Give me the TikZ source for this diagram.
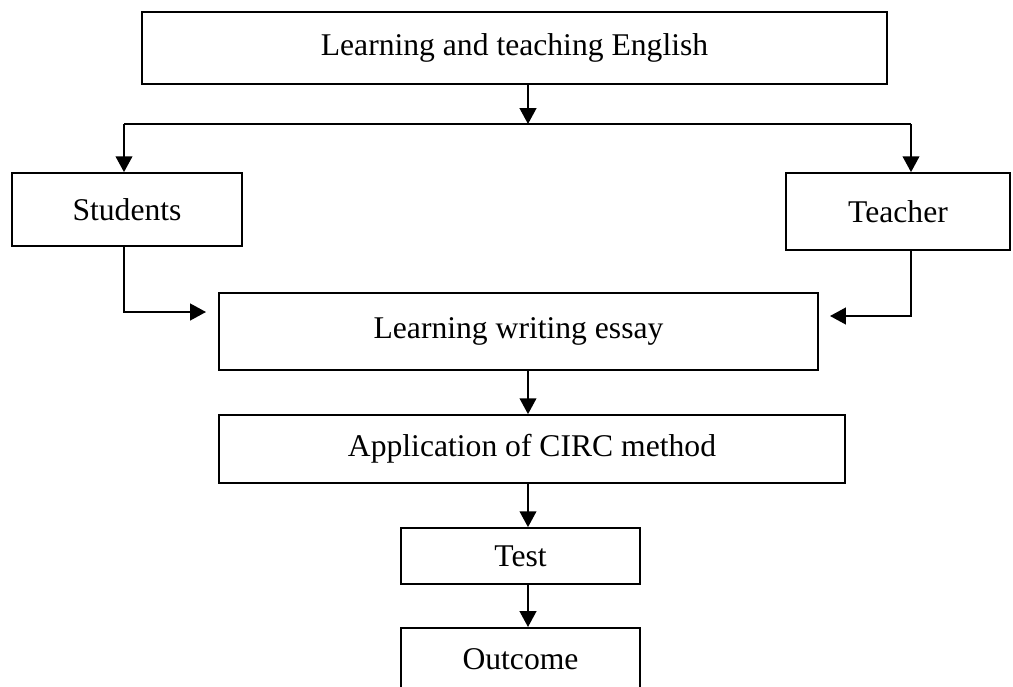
\documentclass[tikz,border=0pt]{standalone}
\usepackage{fontspec}
\setmainfont{Liberation Serif}
\usetikzlibrary{arrows.meta,positioning}

\begin{document}
\begin{tikzpicture}
		[x=0.02cm, y=-0.02cm, line width=1pt,
		 font=\fontsize{18}{21}\selectfont,
		 box/.style={draw, rectangle, inner sep=0pt},
		 arr/.style={-{Triangle[length=9pt,width=9.5pt]}}]
		
		\useasboundingbox (0, 0) rectangle (1013, 686);
		\clip (0, 0) rectangle (1013, 686);
		
		% boxes --------------------------------------------------
		\node[box, minimum width=14.9cm, minimum height=1.44cm] (top) at (514.5, 48)
		{Learning and teaching English};
		
		\node[box, minimum width=4.6cm, minimum height=1.46cm] (students) at (127, 209.5)
		{Students};
		
		\node[box, minimum width=4.48cm, minimum height=1.54cm] (teacher) at (898, 211.5)
		{Teacher};
		
		\node[box, minimum width=11.98cm, minimum height=1.54cm] (essay) at (518.5, 331.5)
		{Learning writing essay};
		
		\node[box, minimum width=12.52cm, minimum height=1.36cm] (circ) at (532, 449)
		{Application of CIRC method};
		
		\node[box, minimum width=4.78cm, minimum height=1.12cm] (test) at (520.5, 556)
		{Test};
		
		\node[box, minimum width=4.78cm, minimum height=1.24cm, anchor=north] (outcome) at (520.5, 627)
		{Outcome};
		
		% split bar ----------------------------------------------
		\coordinate (split) at (528, 124);
		\coordinate (bl) at (124, 124);
		\coordinate (br) at (911, 124);
		\coordinate (sin) at (206, 312);
		\coordinate (tin) at (830, 316);
		
		\draw[arr]	(split |- top.south) -- (split);
		\draw		(bl) -- (br);
		\draw[arr]	(bl) -- (bl |- students.north);
		\draw[arr]	(br) -- (br |- teacher.north);
		
		% into essay ---------------------------------------------
		\draw[arr]	(bl |- students.south) |- (sin);
		\draw[arr]	(br |- teacher.south) |- (tin);
		
		% chain down ---------------------------------------------
		\draw[arr]	(essay.south -| split) -- (circ.north -| split);
		\draw[arr]	(circ.south -| split) -- (test.north -| split);
		\draw[arr]	(test.south -| split) -- (outcome.north -| split);
\end{tikzpicture}
\end{document}
